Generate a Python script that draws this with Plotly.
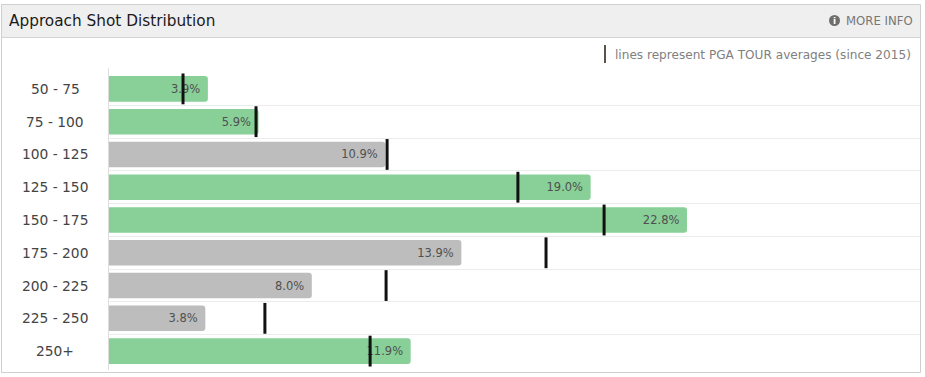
import plotly.graph_objects as go

categories = ["50 - 75", "75 - 100", "100 - 125", "125 - 150", "150 - 175", "175 - 200", "200 - 225", "225 - 250", "250+"]
shares = [3.9, 5.9, 10.9, 19.0, 22.8, 13.9, 8.0, 3.8, 11.9]
tour_avg = [2.92, 5.8, 10.97, 16.13, 19.53, 17.24, 10.93, 6.15, 10.3]
bar_colors = ["#88cf98", "#88cf98", "#bdbdbd", "#88cf98", "#88cf98", "#bdbdbd", "#bdbdbd", "#bdbdbd", "#88cf98"]

W, H = 925, 377
FONT = "DejaVu Sans"
px = lambda v: v / W
py = lambda v: 1 - v / H

fig = go.Figure()
fig.add_bar(
    y=categories, x=shares, orientation="h", width=0.78,
    marker=dict(color=bar_colors, cornerradius=3, line=dict(width=0)),
    text=[f"{v:.1f}%\u2009\u2009" for v in shares], textposition="inside", insidetextanchor="end",
    textangle=0, constraintext="none",
    textfont=dict(family=FONT, size=11.5, color="#505050"), cliponaxis=False, hoverinfo="skip",
)
fig.add_scatter(
    y=categories, x=tour_avg, mode="markers",
    marker=dict(symbol="line-ns", size=22, color="#111111", line=dict(width=3, color="#111111")),
    hoverinfo="skip", cliponaxis=False,
)

shapes = [
    dict(type="rect", xref="paper", yref="paper", x0=px(1.5), x1=px(920.5), y0=py(372.5), y1=py(4.5),
         line=dict(color="#cfcfcf", width=1), fillcolor="white", layer="below"),
    dict(type="rect", xref="paper", yref="paper", x0=px(2), x1=px(920), y0=py(37.5), y1=py(5),
         line=dict(width=0), fillcolor="#efefef", layer="below"),
    dict(type="line", xref="paper", yref="paper", x0=px(2), x1=px(920), y0=py(37.5), y1=py(37.5),
         line=dict(color="#d4d4d4", width=1), layer="below"),
    dict(type="line", xref="paper", yref="paper", x0=px(605), x1=px(605), y0=py(45), y1=py(63),
         line=dict(color="#5a5348", width=2)),
    dict(type="circle", xref="paper", yref="paper", x0=px(829), x1=px(840), y0=py(26), y1=py(15),
         line=dict(width=0), fillcolor="#6e6e6e"),
    dict(type="line", xref="paper", yref="paper", x0=px(108.5), x1=px(108.5), y0=py(370), y1=py(68),
         line=dict(color="#dddddd", width=1), layer="below"),
]
annotations = [
    dict(text="Approach Shot Distribution", xref="paper", yref="paper", x=px(7), y=py(20.5), xanchor="left",
         yanchor="middle", showarrow=False, font=dict(family=FONT, size=15.3, color="#1a1a1a")),
    dict(text="MORE INFO", xref="paper", yref="paper", x=px(915), y=py(20.5), xanchor="right",
         yanchor="middle", showarrow=False, font=dict(family=FONT, size=11.7, color="#777777")),
    dict(text="<b>i</b>", xref="paper", yref="paper", x=px(834.5), y=py(20.5), xanchor="center",
         yanchor="middle", showarrow=False, font=dict(family=FONT, size=9, color="#ffffff")),
    dict(text="lines represent PGA TOUR averages (since 2015)", xref="paper", yref="paper", x=px(913), y=py(54.5),
         xanchor="right", yanchor="middle", showarrow=False, font=dict(family=FONT, size=12.1, color="#808080")),
]
for c in categories:
    annotations.append(dict(text=c, xref="paper", yref="y", x=px(55), y=c, xanchor="center", yanchor="middle",
                            showarrow=False, font=dict(family=FONT, size=13.8, color="#444444")))

fig.update_layout(
    width=W, height=H, autosize=False, showlegend=False, paper_bgcolor="white", plot_bgcolor="rgba(0,0,0,0)",
    margin=dict(l=0, r=0, t=0, b=0), shapes=shapes, annotations=annotations,
    xaxis=dict(domain=[px(109), px(920)], range=[0, 811 / 25.35], showgrid=False, zeroline=False,
               showticklabels=False, ticks="", fixedrange=True),
    yaxis=dict(domain=[py(367.5), py(72.5)], range=[8.5, -0.5], type="category", categoryarray=categories,
               categoryorder="array", tickson="boundaries", showgrid=True, gridcolor="#ececec", gridwidth=1,
               showticklabels=False, ticks="", zeroline=False, showline=False, fixedrange=True),
)
fig.write_html("out.html", config={"displayModeBar": False},
               post_script="document.body.style.margin='0';")
